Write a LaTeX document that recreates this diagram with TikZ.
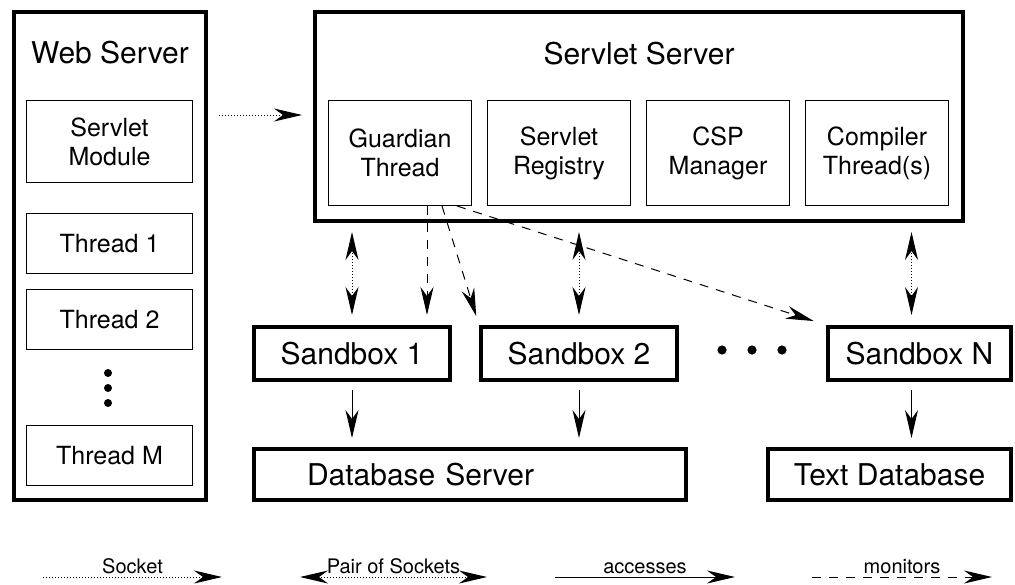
\documentclass[tikz,border=0pt]{standalone}
\usepackage{fontspec}
\setmainfont{TeX Gyre Heros}
\usetikzlibrary{arrows.meta,positioning}

\begin{document}
\begin{tikzpicture}[
  x=0.5pt, y=-0.5pt,
  box/.style={draw, line width=2pt, inner sep=0pt, font=\fontsize{15}{18}\selectfont},
  thinbox/.style={draw, line width=0.5pt, inner sep=0pt, align=center,
    minimum width=71.5pt, minimum height=52.5pt, font=\fontsize{12.5}{14.5}\selectfont},
  heading/.style={font=\fontsize{15}{18}\selectfont},
  keytext/.style={font=\fontsize{10}{12}\selectfont, inner sep=1.5pt},
  sockline/.style={-{Stealth[length=14pt,width=6.5pt,inset=4.5pt]}, line width=0.5pt, dash pattern=on 0.5pt off 1pt},
  pairline/.style={{Stealth[length=14pt,width=6.5pt,inset=4.5pt]}-{Stealth[length=14pt,width=6.5pt,inset=4.5pt]}, line width=0.5pt, dash pattern=on 0.5pt off 1pt},
  accline/.style={-{Stealth[length=14pt,width=6.5pt,inset=4.5pt]}, line width=0.5pt},
  monline/.style={-{Stealth[length=14pt,width=6.5pt,inset=4.5pt]}, line width=0.5pt, dash pattern=on 4.5pt off 4pt},
  ]
\useasboundingbox (0,0) rectangle (1015,584);

% web server column
\node [box, minimum width=96pt, minimum height=244pt] (web) at (110,256) {};
\node [heading] (webtitle) at (110,53) {Web Server};
\node [thinbox, minimum width=83pt, minimum height=41pt] (mod) at (109.5,141.5) {Servlet\\Module};
\node [thinbox, minimum width=83pt, minimum height=30pt] (th1) at (109.5,243.5) {Thread 1};
\node [thinbox, minimum width=83pt, minimum height=30pt] (th2) at (109.5,319.5) {Thread 2};
\node [thinbox, minimum width=83pt, minimum height=30pt] (thM) at (109.5,455.5) {Thread M};
\foreach \y in {373,388,403}
  \fill (108,\y) circle (2pt);

% servlet server
\node [box, minimum width=324pt, minimum height=104.5pt] (srv) at (639,116.5) {};
\node [heading] (srvtitle) at (639,54) {Servlet Server};
\node [thinbox] (grd) at (400,153) {Guardian\\Thread};
\node [thinbox] (reg) at (559,153) {Servlet\\Registry};
\node [thinbox] (csp) at (718,153) {CSP\\Manager};
\node [thinbox] (cmp) at (877,153) {Compiler\\Thread(s)};

% sandboxes and databases
\node [box, minimum width=98pt, minimum height=26.5pt] (sb1) at (352,353.5) {Sandbox 1};
\node [box, minimum width=98pt, minimum height=26.5pt] (sb2) at (579,353.5) {Sandbox 2};
\node [box, minimum width=91.5pt, minimum height=26.5pt] (sbN) at (919.5,353.5) {Sandbox N};
\foreach \x in {722,752,782}
  \fill (\x,350) circle (2.3pt);
\node [box, minimum width=216pt, minimum height=25.5pt, inner xsep=26.5pt,
  text width=163pt, align=left] (db) at (470,474.5) {Database Server};
\node [box, minimum width=121.5pt, minimum height=25.5pt] (txt) at (889.5,474.5) {Text Database};

% connections
\draw [sockline, shorten <=5.5pt, shorten >=5.5pt]
  ([yshift=-7.5pt]web.east |- mod.north) -- ([yshift=-7.5pt]srv.west |- mod.north);
\draw [pairline, shorten <=4.5pt, shorten >=5pt] (sb1.north |- srv.south) -- (sb1.north);
\draw [pairline, shorten <=4.5pt, shorten >=5pt] (sb2.north |- srv.south) -- (sb2.north);
\draw [pairline, shorten <=4.5pt, shorten >=5pt]
  ([xshift=-4pt]sbN.north |- srv.south) -- ([xshift=-4pt]sbN.north);
\draw [monline, shorten >=5pt] ([xshift=13.5pt]grd.south) -- ([xshift=13.5pt]grd.south |- sb1.north);
\draw [monline, shorten >=4.6pt] ([xshift=21pt]grd.south) -- (sb2.north west);
\draw [monline, shorten >=6.5pt] ([xshift=28.5pt]grd.south) -- (sbN.north west);
\draw [accline, shorten <=4pt, shorten >=4.5pt] (sb1.south) -- (sb1.south |- db.north);
\draw [accline, shorten <=4pt, shorten >=4.5pt] (sb2.south) -- (sb2.south |- db.north);
\draw [accline, shorten <=4pt, shorten >=4.5pt]
  ([xshift=-4pt]sbN.south) -- ([xshift=-4pt]sbN.south |- txt.north);

% key
\coordinate (k1a) at (43,577);  \coordinate (k1b) at (222,577);
\coordinate (k2a) at (300,577); \coordinate (k2b) at (487,577);
\coordinate (k3a) at (555,577); \coordinate (k3b) at (735,577);
\coordinate (k4a) at (812,577); \coordinate (k4b) at (992,577);
\draw [sockline] (k1a) -- node [keytext, above] (k1t) {Socket} (k1b);
\draw [pairline] (k2a) -- node [keytext, above] (k2t) {Pair of Sockets} (k2b);
\draw [accline] (k3a) -- node [keytext, above] (k3t) {accesses} (k3b);
\draw [monline] (k4a) -- node [keytext, above] (k4t) {monitors} (k4b);
\end{tikzpicture}
\end{document}
